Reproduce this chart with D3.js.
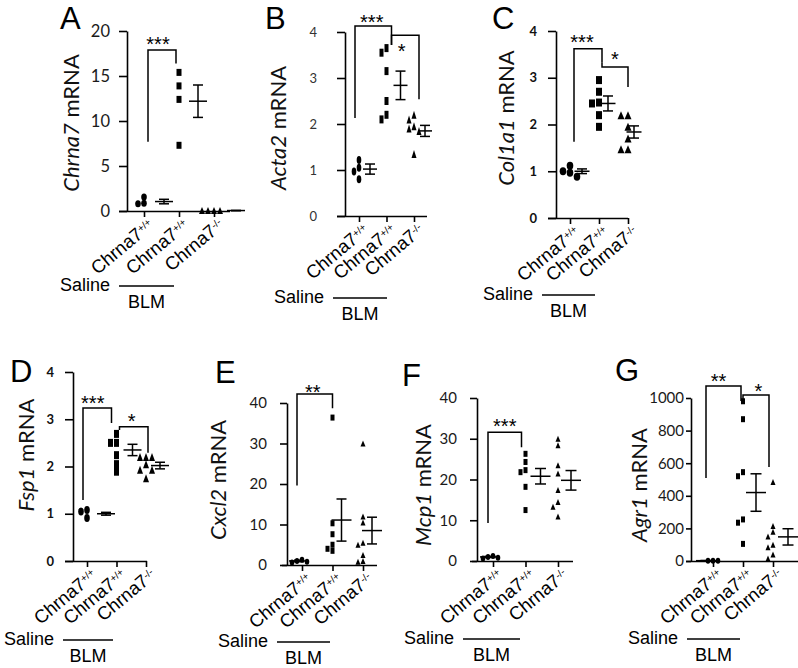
<!DOCTYPE html>
<html><head><meta charset="utf-8">
<script src="https://cdn.jsdelivr.net/npm/d3@7"></script>
<style>body{margin:0;background:#fff}svg{display:block}</style>
</head><body>
<svg id="c" width="798" height="668"></svg>
<script>
// ---------- data ----------
const groupIds = ["saline_wt", "blm_wt", "blm_ko"];
const genotypeBase = ["Chrna7", "Chrna7", "Chrna7"];
const genotypeSup = ["+/+", "+/+", "-/-"];
const treatmentLabels = ["Saline", "BLM"];
const panelLetters = ["A", "B", "C", "D", "E", "F", "G"];
const genes = ["Chrna7", "Acta2", "Col1a1", "Fsp1", "Cxcl2", "Mcp1", "Agr1"];

const yTicksA = [0, 5, 10, 15, 20];
const yTicks4 = [0, 1, 2, 3, 4];
const yTicks40 = [0, 10, 20, 30, 40];
const yTicksG = [0, 200, 400, 600, 800, 1000];

const chrna7Saline = [1.55, 0.85, 0.8];
const chrna7Wt = [15.4, 13.9, 12.4, 7.3];
const chrna7Ko = [0.05, 0.05, 0.05, 0.05];
const chrna7Mean = [1.05, 12.2, 0.05];
const chrna7Sem = [0.25, 1.8, 0.02];

const acta2Saline = [1.22, 1.05, 0.97, 0.8];
const acta2Wt = [3.65, 3.55, 3.15, 2.5, 2.2, 2.1];
const acta2Ko = [2.2, 2.1, 1.95, 1.9, 1.85, 1.35];
const acta2Mean = [1.02, 2.84, 1.85];
const acta2Sem = [0.11, 0.31, 0.12];

const col1a1Saline = [1.12, 1.0, 0.97, 0.88];
const col1a1Wt = [2.95, 2.7, 2.47, 2.45, 2.2, 1.95];
const col1a1Ko = [2.2, 2.2, 1.95, 1.7, 1.47, 1.47];
const col1a1Mean = [1.0, 2.45, 1.84];
const col1a1Sem = [0.05, 0.16, 0.13];

const fsp1Saline = [1.08, 0.91, 1.05];
const fsp1Wt = [2.69, 2.5, 2.5, 2.24, 2.05, 1.89];
const fsp1Ko = [2.2, 2.2, 2.2, 2.05, 1.93, 1.93, 1.75];
const fsp1Mean = [1.0, 2.35, 2.02];
const fsp1Sem = [0.03, 0.12, 0.07];

const cxcl2Saline = [1.3, 1.0, 0.8, 0.6];
const cxcl2Wt = [36.4, 10.3, 7.6, 5.0, 4.0, 3.5];
const cxcl2Ko = [30, 12, 10.5, 5.5, 5, 2.5, 1, 0.8];
const cxcl2Mean = [1.0, 11.1, 8.5];
const cxcl2Sem = [0.2, 5.2, 3.3];

const mcp1Saline = [1.2, 1.0, 0.8, 0.6];
const mcp1Wt = [26.3, 24.3, 22.3, 21.8, 18.2, 12.5];
const mcp1Ko = [30, 28.4, 23.5, 21.5, 17.4, 14.5, 13.3, 10.9];
const mcp1Mean = [1.0, 20.8, 19.8];
const mcp1Sem = [0.15, 1.9, 2.4];

const agr1Saline = [2, 2, 2];
const agr1Wt = [980, 870, 545, 520, 255, 235, 105];
const agr1Ko = [485, 215, 180, 150, 100, 85, 40, 15];
const agr1Mean = [2, 420, 148];
const agr1Sem = [1, 115, 50];

// significance brackets: [fromGroup, toGroup, top, leftBottom, rightBottom, label]
const sigA = [[0, 1, 17.9, 7.7, 16.4, "***"]];
const sigB = [[0, 1, 4.13, 2.13, 3.72, "***"], [1, 2, 3.93, 3.72, 2.54, "*"]];
const sigC = [[0, 1, 3.62, 1.63, 3.32, "***"], [1, 2, 3.23, 3.32, 2.8, "*"]];
const sigD = [[0, 1, 3.24, 1.29, 2.92, "***"], [1, 2, 2.84, 2.77, 2.29, "*"]];
const sigE = [[0, 1, 42.2, 19.6, 38.7, "**"]];
const sigF = [[0, 1, 31.6, 9.3, 27.9, "***"]];
const sigG = [[0, 1, 1074, 509, 982, "**"], [1, 2, 1018, 975, 577, "*"]];

// ---------- layout (positions / styles only) ----------
const panels = [
 {values:[chrna7Saline, chrna7Wt, chrna7Ko], mean:chrna7Mean, sem:chrna7Sem, ticks:yTicksA, sig:sigA,
  L:{ax:127,y0:211,yTop:31,c:[144,214],xl:119,xr:230,tl:8,pad:9,tf:16.5,tw:400,tc:"#1a1a1a",
     letter:[60,29],ylab:[70,123],mOff:[20,19,22],mk:[5,7],mw:18,cw:10,lab:[119,174,286],
     bdx:[[4,-3]],sl:[[-4,1.5]]}},
 {values:[acta2Saline, acta2Wt, acta2Ko], mean:acta2Mean, sem:acta2Sem, ticks:yTicks4, sig:sigB,
  L:{ax:345,y0:216,yTop:32,c:[359,414],xl:337,xr:427,tl:8,pad:20,tf:13,tw:400,tc:"#333",
     letter:[265,29],ylab:[277,128],mOff:[11,14,11],mk:[4,8],mw:14,cw:10,lab:[333,387,298],
     bdx:[[-4,5],[5,5]],sl:[[-1.5,3],[-3.5,22.5]]}},
 {values:[col1a1Saline, col1a1Wt, col1a1Ko], mean:col1a1Mean, sem:col1a1Sem, ticks:yTicks4, sig:sigC,
  L:{ax:556,y0:218,yTop:31,c:[570,628],xl:548,xr:628,tl:8,pad:11,tf:13,tw:700,tc:"#111",
     letter:[492,29],ylab:[505,118],mOff:[12,9,6],mk:[6,8],mw:15,cw:10,lab:[542,595,295],
     bdx:[[4,3],[3,0]],sl:[[-6,0.5],[0,-1]]}},
 {values:[fsp1Saline, fsp1Wt, fsp1Ko], mean:fsp1Mean, sem:fsp1Sem, ticks:yTicks4, sig:sigD,
  L:{ax:73,y0:561,yTop:372,c:[87,146],xl:65,xr:147,tl:8,pad:11,tf:13,tw:700,tc:"#111",
     letter:[10,382],ylab:[25,455],mOff:[19,16,14],mk:[5,8],mw:18,cw:10,lab:[63,113,640],
     bdx:[[-4,-5],[3,2]],sl:[[-4.5,2.5],[-2,1]]}},
 {values:[cxcl2Saline, cxcl2Wt, cxcl2Ko], mean:cxcl2Mean, sem:cxcl2Sem, ticks:yTicks40, sig:sigE,
  L:{ax:287,y0:565,yTop:403,c:[302,363],xl:282,xr:377,tl:7,pad:13,tf:15,tw:400,tc:"#1a1a1a",
     letter:[215,383],ylab:[217,480],mOff:[-3,9,9],mk:[4,6],mw:20,cw:10,lab:[277,330,642],
     bdx:[[-5,0]],sl:[[-2,4.5]]}},
 {values:[mcp1Saline, mcp1Wt, mcp1Ko], mean:mcp1Mean, sem:mcp1Sem, ticks:yTicks40, sig:sigF,
  L:{ax:477,y0:561,yTop:398,c:[493,558],xl:472,xr:573,tl:7,pad:13,tf:15,tw:400,tc:"#1a1a1a",
     letter:[402,386],ylab:[422,485],mOff:[-3,15,13],mk:[4,6],mw:20,cw:11,lab:[463,520,639],
     bdx:[[-5,-4]],sl:[[0,1]]}},
 {values:[agr1Saline, agr1Wt, agr1Ko], mean:agr1Mean, sem:agr1Sem, ticks:yTicksG, sig:sigG,
  L:{ax:691,y0:561,yTop:398,c:[713,773],xl:686,xr:798,tl:5,pad:2,tf:15,tw:400,tc:"#1a1a1a",
     letter:[615,381],ylab:[638,485],mOff:[-7,13,15],mk:[4,6],mw:20,cw:11,lab:[687,740,639],
     bdx:[[-7,-2],[0,-4]],sl:[[-5,2],[2.5,2.5]]}}
];

const svg = d3.select("#c");
const SANS = "'Liberation Sans', Arial, Helvetica, sans-serif";
const HUM = "Lato, 'Open Sans', sans-serif";

function swarm(vals, cx, y, w, h) {
  const placed = [];
  const order = vals.map((v, i) => ({v, i})).sort((a, b) => b.v - a.v);
  order.forEach(o => {
    const py = y(o.v);
    for (let k = 0; k < 30; k++) {
      const off = k === 0 ? 0 : (k % 2 ? -1 : 1) * Math.ceil(k / 2) * (w + 1);
      const px = cx + off;
      if (!placed.some(p => Math.abs(p.x - px) < w + 0.5 && Math.abs(p.y - py) < h * 0.85)) {
        placed.push({x: px, y: py}); break;
      }
    }
  });
  return placed;
}

panels.forEach((p, pi) => {
  const L = p.L;
  const g = svg.append("g");
  const y = d3.scaleLinear().domain([0, d3.max(p.ticks)]).range([L.y0, L.yTop]);
  const x = d3.scalePoint().domain(groupIds).range(L.c);

  // y axis
  const ya = d3.axisLeft(y).tickValues(p.ticks).tickFormat(d3.format("d"))
    .tickSize(L.tl).tickSizeOuter(0).tickPadding(L.pad);
  const gy = g.append("g").attr("transform", `translate(${L.ax},0)`).call(ya);
  gy.selectAll("path,line").attr("stroke", "#000").attr("stroke-width", 1.6);
  gy.selectAll("text").attr("font-family", HUM).attr("font-size", L.tf)
    .attr("font-weight", L.tw).attr("fill", L.tc);

  // x axis
  const xa = d3.axisBottom(x).tickSize(6).tickFormat("").tickSizeOuter(0);
  const gx = g.append("g").attr("transform", `translate(0,${L.y0})`).call(xa);
  gx.select(".domain").remove();
  gx.selectAll("line").attr("stroke", "#000").attr("stroke-width", 1.6);
  g.append("line").attr("x1", L.xl).attr("x2", L.xr).attr("y1", L.y0 + 0.5).attr("y2", L.y0 + 0.5)
    .attr("stroke", "#000").attr("stroke-width", 1.6);

  // panel letter
  g.append("text").attr("x", L.letter[0]).attr("y", L.letter[1]).text(panelLetters[pi])
    .attr("font-family", SANS).attr("font-size", 31).attr("fill", "#000");

  // y label
  const yl = g.append("text").attr("transform", `translate(${L.ylab[0]},${L.ylab[1]}) rotate(-90)`)
    .attr("text-anchor", "middle").attr("dominant-baseline", "central")
    .attr("font-family", HUM).attr("font-size", 22).attr("fill", "#111");
  yl.append("tspan").attr("font-style", "italic").text(genes[pi]);
  yl.append("tspan").text(" mRNA");

  // points
  p.values.forEach((vals, gi) => {
    const cx = x(groupIds[gi]);
    const [w, h] = L.mk;
    const pts = swarm(vals, cx, y, w, h);
    pts.forEach(pt => {
      if (gi === 0) {
        g.append("ellipse").attr("cx", pt.x).attr("cy", pt.y).attr("rx", w / 2 + 0.3).attr("ry", h / 2).attr("fill", "#000");
      } else if (gi === 1) {
        g.append("rect").attr("x", pt.x - w / 2).attr("y", pt.y - h / 2).attr("width", w).attr("height", h).attr("fill", "#000");
      } else {
        g.append("path").attr("d", `M${pt.x},${pt.y - h / 2}L${pt.x + w / 2 + 0.5},${pt.y + h / 2}L${pt.x - w / 2 - 0.5},${pt.y + h / 2}Z`).attr("fill", "#000");
      }
    });
    // mean +- SEM
    const mx = cx + L.mOff[gi];
    const m = p.mean[gi], s = p.sem[gi];
    const ln = (x1, y1, x2, y2) => g.append("line").attr("x1", x1).attr("y1", y1).attr("x2", x2).attr("y2", y2)
      .attr("stroke", "#000").attr("stroke-width", 1.5);
    ln(mx - L.mw / 2, y(m), mx + L.mw / 2, y(m));
    ln(mx, y(m + s), mx, y(m - s));
    ln(mx - L.cw / 2, y(m + s), mx + L.cw / 2, y(m + s));
    ln(mx - L.cw / 2, y(m - s), mx + L.cw / 2, y(m - s));
  });

  // brackets
  p.sig.forEach((b, bi) => {
    const [a, c, top, lb, rb, lab] = b;
    const x1 = x(groupIds[a]) + L.bdx[bi][0];
    const x2 = x(groupIds[c]) + L.bdx[bi][1];
    g.append("path").attr("d", `M${x1},${y(lb)}V${y(top)}H${x2}V${y(rb)}`)
      .attr("fill", "none").attr("stroke", "#000").attr("stroke-width", 1.5);
    g.append("text").attr("x", (x1 + x2) / 2 + L.sl[bi][0]).attr("y", y(top) + L.sl[bi][1])
      .attr("text-anchor", "middle").attr("font-family", SANS).attr("font-size", 20).attr("fill", "#000").text(lab);
  });

  // category labels
  groupIds.forEach((gid, gi) => {
    const t = g.append("text")
      .attr("transform", `translate(${x(gid) + 11},${L.y0 + 16}) rotate(-40)`)
      .attr("text-anchor", "end").attr("font-family", SANS).attr("font-size", 18.5).attr("fill", "#000");
    t.append("tspan").text(genotypeBase[gi]);
    t.append("tspan").attr("font-size", 10).attr("baseline-shift", "super").text(genotypeSup[gi]);
  });

  // treatment labels
  const [lx1, lx2, ly] = L.lab;
  g.append("text").attr("x", lx1 - 9).attr("y", ly + 5).attr("text-anchor", "end")
    .attr("font-family", SANS).attr("font-size", 18).attr("fill", "#000").text(treatmentLabels[0]);
  g.append("line").attr("x1", lx1).attr("x2", lx2).attr("y1", ly).attr("y2", ly)
    .attr("stroke", "#000").attr("stroke-width", 1.3);
  g.append("text").attr("x", (lx1 + lx2) / 2).attr("y", ly + 22).attr("text-anchor", "middle")
    .attr("font-family", SANS).attr("font-size", 18).attr("fill", "#000").text(treatmentLabels[1]);
});
</script>
</body></html>
